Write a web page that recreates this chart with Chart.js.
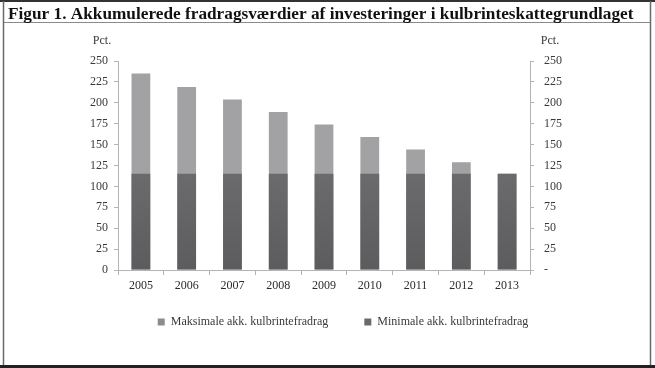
<!DOCTYPE html>
<html>
<head>
<meta charset="utf-8">
<script src="https://cdn.jsdelivr.net/npm/chart.js@4.4.0/dist/chart.umd.min.js"></script>
<style>
  html, body { margin: 0; padding: 0; background: #fff; }
  #wrap { width: 655px; height: 368px; position: relative; }
</style>
</head>
<body>
<div id="wrap"><canvas id="chart" width="655" height="368"></canvas></div>
<script>
// Data
const years = ['2005', '2006', '2007', '2008', '2009', '2010', '2011', '2012', '2013'];
const maksimale = [235, 219, 204, 189, 174, 159, 144, 129, 115];
const minimale = [115, 115, 115, 115, 115, 115, 115, 115, 115];
const seriesNames = ['Maksimale akk. kulbrintefradrag', 'Minimale akk. kulbrintefradrag'];
const titleText = 'Figur 1. Akkumulerede fradragsværdier af investeringer i kulbrinteskattegrundlaget';
const unitLabel = 'Pct.';

const SERIF = '"Liberation Serif", "DejaVu Serif", serif';
const AXIS_COLOR = '#b4b4b4';
const TEXT_COLOR = '#3a3a3a';

// dark bars have a soft vertical gradient in the original
function darkFill(context) {
    const chart = context.chart;
    const area = chart.chartArea;
    if (!area) return '#6a6a6c';
    const g = chart.ctx.createLinearGradient(0, area.top, 0, area.bottom);
    g.addColorStop(0, '#7c7c7e');
    g.addColorStop(1, '#5c5c5e');
    return g;
}

// frame, title band and the "Pct." labels
const framePlugin = {
    id: 'frame',
    afterLayout(chart) {
        // legend sits closer under the axis than its wide item padding would allow,
        // and a bit right of the canvas centre like in the original
        const lg = chart.legend;
        const h = lg.height;
        lg.top = chart.chartArea.bottom + 10;
        lg.bottom = lg.top + h;
        lg.left += 32;
    },
    beforeDraw(chart) {
        const ctx = chart.ctx;
        ctx.save();
        ctx.fillStyle = '#fff';
        ctx.fillRect(0, 0, chart.width, chart.height);
        ctx.restore();
    },
    afterDraw(chart) {
        const ctx = chart.ctx;
        const area = chart.chartArea;
        ctx.save();
        // borders
        ctx.strokeStyle = '#333';
        ctx.lineWidth = 2;
        ctx.beginPath(); ctx.moveTo(0, 1); ctx.lineTo(655, 1); ctx.stroke();
        ctx.strokeStyle = '#8a8a8a';
        ctx.lineWidth = 1;
        ctx.beginPath(); ctx.moveTo(3, 22.5); ctx.lineTo(651, 22.5); ctx.stroke();
        ctx.strokeStyle = '#6a6a6a';
        ctx.lineWidth = 1.5;
        ctx.beginPath(); ctx.moveTo(3.5, 1); ctx.lineTo(3.5, 366); ctx.stroke();
        ctx.beginPath(); ctx.moveTo(650.5, 1); ctx.lineTo(650.5, 366); ctx.stroke();
        ctx.strokeStyle = '#222';
        ctx.lineWidth = 3;
        ctx.beginPath(); ctx.moveTo(0, 366.5); ctx.lineTo(655, 366.5); ctx.stroke();

        // title, fitted to the band width
        let size = 24;
        ctx.font = 'bold ' + size + 'px ' + SERIF;
        while (ctx.measureText(titleText).width > 632 && size > 10) {
            size -= 0.25;
            ctx.font = 'bold ' + size + 'px ' + SERIF;
        }
        ctx.fillStyle = '#111';
        ctx.textBaseline = 'alphabetic';
        ctx.textAlign = 'left';
        ctx.fillText(titleText, 8, 18.5);

        // unit labels above both axes
        ctx.font = '12px ' + SERIF;
        ctx.fillStyle = TEXT_COLOR;
        ctx.textBaseline = 'middle';
        ctx.textAlign = 'center';
        ctx.fillText(unitLabel, area.left - 16, 41);
        ctx.fillText(unitLabel, area.right + 20, 41);
        ctx.restore();
    }
};

const ctx = document.getElementById('chart').getContext('2d');
const chart = new Chart(ctx, {
    type: 'bar',
    data: {
        labels: years,
        datasets: [
            {
                label: seriesNames[0],
                data: maksimale,
                backgroundColor: '#a2a2a4',
                yAxisID: 'y',
                order: 1,
                barPercentage: 0.82,
                categoryPercentage: 0.5
            },
            {
                label: seriesNames[1],
                data: minimale,
                backgroundColor: darkFill,
                yAxisID: 'y',
                order: 0,
                barPercentage: 0.82,
                categoryPercentage: 0.5
            }
        ]
    },
    options: {
        responsive: false,
        animation: false,
        layout: { padding: { top: 61, left: 4, right: 5, bottom: 10 } },
        plugins: {
            tooltip: { enabled: false },
            legend: {
                position: 'bottom',
                labels: {
                    boxWidth: 7,
                    boxHeight: 7,
                    padding: 36,
                    color: TEXT_COLOR,
                    font: { family: SERIF, size: 12 },
                    sort: (a, b) => a.datasetIndex - b.datasetIndex,
                    generateLabels(chart) {
                        const items = Chart.defaults.plugins.legend.labels.generateLabels(chart);
                        items.forEach(it => { it.fillStyle = it.datasetIndex === 0 ? '#8c8c8e' : '#6a6a6c'; it.strokeStyle = 'transparent'; it.lineWidth = 0; });
                        return items;
                    }
                }
            }
        },
        scales: {
            x: {
                stacked: true,
                grid: { drawOnChartArea: false, tickLength: 5, color: AXIS_COLOR, offset: true },
                border: { color: AXIS_COLOR },
                ticks: { color: '#2a2a2a', font: { family: SERIF, size: 12 }, padding: 4, maxRotation: 0 },
                afterFit(scale) { scale.height = 30; }
            },
            y: {
                position: 'left',
                stacked: false,
                min: 0,
                max: 250,
                grid: { drawOnChartArea: false, tickLength: 4, color: AXIS_COLOR },
                border: { color: AXIS_COLOR },
                ticks: { stepSize: 25, color: TEXT_COLOR, font: { family: SERIF, size: 12 }, padding: 6 },
                afterFit(scale) { scale.width = 114; }
            },
            y2: {
                position: 'right',
                min: 0,
                max: 250,
                grid: { drawOnChartArea: false, tickLength: 4, color: AXIS_COLOR },
                border: { color: AXIS_COLOR },
                ticks: {
                    stepSize: 25,
                    color: TEXT_COLOR,
                    font: { family: SERIF, size: 12 },
                    padding: 10,
                    callback: v => (v === 0 ? '-' : v)
                },
                afterFit(scale) { scale.width = 120; }
            }
        }
    },
    plugins: [framePlugin]
});
</script>
</body>
</html>
